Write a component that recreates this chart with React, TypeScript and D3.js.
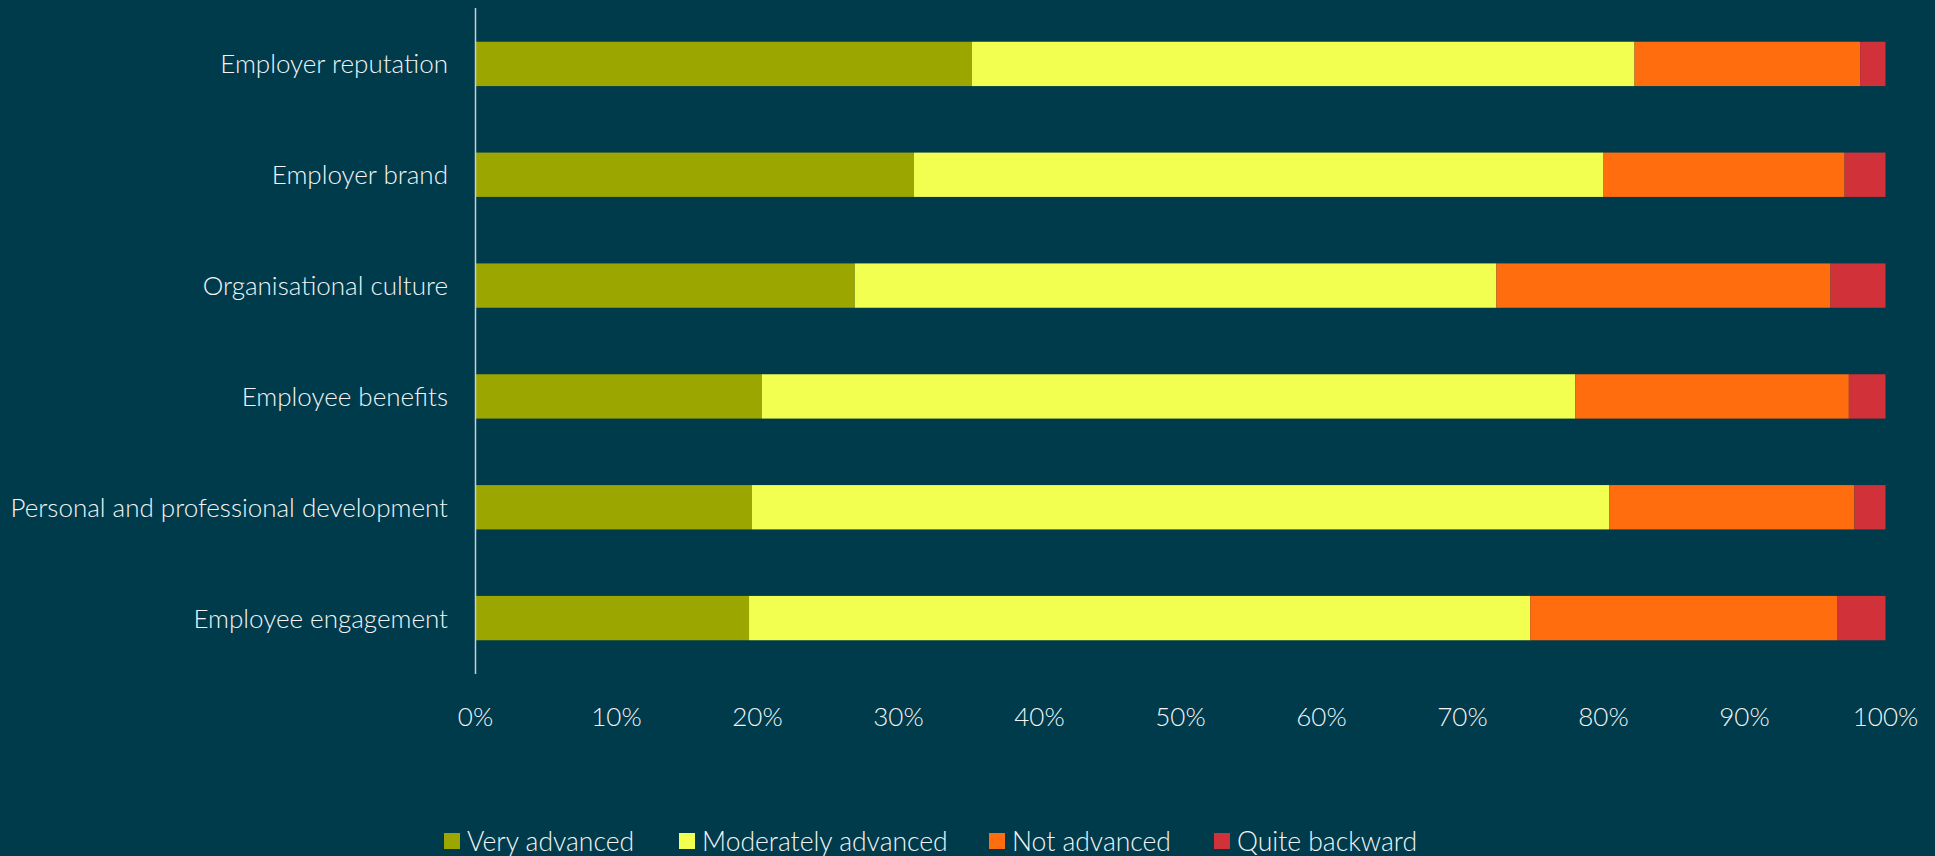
import React, { useEffect, useRef } from "react";
import * as d3 from "d3";

const categories = [
  "Employer reputation",
  "Employer brand",
  "Organisational culture",
  "Employee benefits",
  "Personal and professional development",
  "Employee engagement",
];
const seriesNames = ["Very advanced", "Moderately advanced", "Not advanced", "Quite backward"];
const veryAdvanced = [35.2, 31.1, 26.9, 20.3, 19.6, 19.4];
const moderatelyAdvanced = [47.0, 48.9, 45.5, 57.7, 60.8, 55.4];
const notAdvanced = [16.0, 17.1, 23.7, 19.4, 17.4, 21.8];
const quiteBackward = [1.8, 2.9, 3.9, 2.6, 2.2, 3.4];
const tickValues = [0, 0.1, 0.2, 0.3, 0.4, 0.5, 0.6, 0.7, 0.8, 0.9, 1.0];
const colors = ["#9ba600", "#f2ff50", "#ff6d0e", "#d13139"];

const W = 1935;
const H = 856;
const BG = "#003b4c";
const FONT = "Lato, 'Open Sans', sans-serif";
const LEGEND_X = [444, 679, 989, 1214];

export default function App() {
  const ref = useRef<SVGSVGElement>(null);

  useEffect(() => {
    const svg = d3.select(ref.current);
    svg.selectAll("*").remove();

    svg.append("rect").attr("width", W).attr("height", H).attr("fill", BG);

    const rows = categories.map((c, i) => {
      const vals = [veryAdvanced[i], moderatelyAdvanced[i], notAdvanced[i], quiteBackward[i]];
      const tot = d3.sum(vals);
      const o: any = { category: c };
      seriesNames.forEach((s, j) => (o[s] = vals[j] / tot));
      return o;
    });

    const x = d3.scaleLinear().domain([0, 1]).range([475.5, 1885.5]);
    const y = d3
      .scaleBand<string>()
      .domain(categories)
      .range([8.5, 673.5])
      .paddingInner(0.6)
      .paddingOuter(0.3);

    const stacked = d3.stack<any>().keys(seriesNames)(rows);

    const g = svg.append("g");
    stacked.forEach((layer, li) => {
      g.selectAll(null)
        .data(layer)
        .enter()
        .append("rect")
        .attr("x", (d: any) => x(d[0]))
        .attr("y", (d: any) => y(d.data.category)!)
        .attr("width", (d: any) => x(d[1]) - x(d[0]))
        .attr("height", y.bandwidth())
        .attr("fill", colors[li]);
    });

    // axis line
    svg
      .append("line")
      .attr("x1", x(0))
      .attr("x2", x(0))
      .attr("y1", 8)
      .attr("y2", 674)
      .attr("stroke", "#c9cfd2")
      .attr("stroke-width", 1.5);

    // category labels
    svg
      .append("g")
      .selectAll("text")
      .data(categories)
      .enter()
      .append("text")
      .attr("x", 448)
      .attr("y", (d) => y(d)! + y.bandwidth() / 2 + 9.5)
      .attr("text-anchor", "end")
      .attr("fill", "#f2f4f5")
      .attr("font-family", FONT)
      .attr("font-weight", 300)
      .attr("font-size", 26)
      .text((d) => d);

    // tick labels
    svg
      .append("g")
      .selectAll("text")
      .data(tickValues)
      .enter()
      .append("text")
      .attr("x", (d) => x(d))
      .attr("y", 726)
      .attr("text-anchor", "middle")
      .attr("fill", "#f2f4f5")
      .attr("font-family", FONT)
      .attr("font-weight", 300)
      .attr("font-size", 26)
      .text((d) => d3.format(".0%")(d));

    // legend
    const lg = svg.append("g");
    seriesNames.forEach((s, i) => {
      const cx = LEGEND_X[i];
      lg.append("rect")
        .attr("x", cx)
        .attr("y", 833)
        .attr("width", 16)
        .attr("height", 16)
        .attr("fill", colors[i]);
      lg.append("text")
        .attr("x", cx + 23)
        .attr("y", 851)
        .attr("fill", "#f2f4f5")
        .attr("font-family", FONT)
        .attr("font-weight", 300)
        .attr("font-size", 26.5)
        .text(s);
    });
  }, []);

  return (
    <svg
      ref={ref}
      width={W}
      height={H}
      style={{ position: "absolute", left: 0, top: 0, display: "block" }}
    />
  );
}
